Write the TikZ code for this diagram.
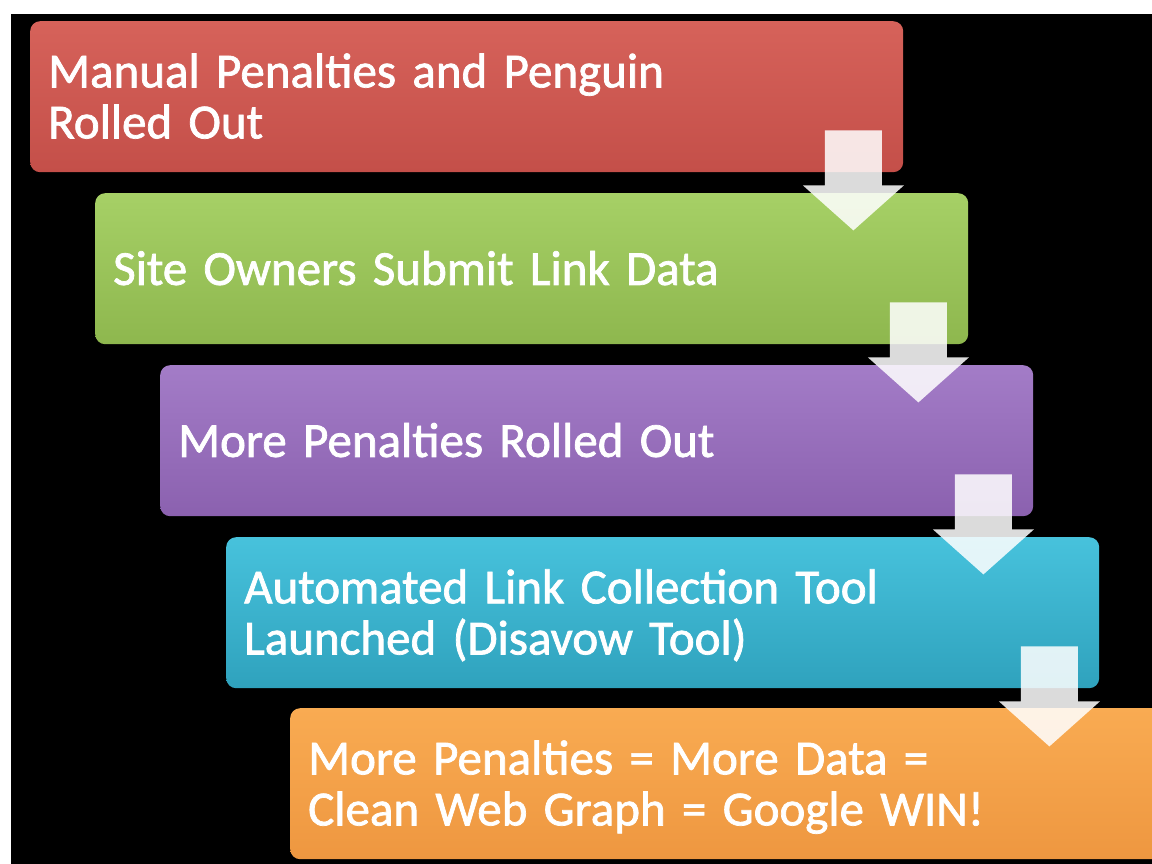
\documentclass[tikz,border=0pt]{standalone}
\usepackage{fontspec}
\setmainfont{Carlito}
\newfontfamily\stagefont{Carlito}[FakeBold=1.5]
\usepackage{graphicx}
\usetikzlibrary{calc}
\definecolor{rTop}{HTML}{D6625A}\definecolor{rBot}{HTML}{C44F49}
\definecolor{gTop}{HTML}{A6D066}\definecolor{gBot}{HTML}{8EB74E}
\definecolor{pTop}{HTML}{A37CC7}\definecolor{pBot}{HTML}{8B61AF}
\definecolor{bTop}{HTML}{47C2DC}\definecolor{bBot}{HTML}{2FA2BD}
\definecolor{oTop}{HTML}{F9AB52}\definecolor{oBot}{HTML}{EE9740}
\newcommand\stxt[1]{\raisebox{-6pt}[\height][\depth]{\begin{tabular}{@{}l@{}}#1\end{tabular}}}
\newcommand\flowarrow[1]{%
  \fill[arrowf] ($(#1.south east)+(-78.5,42)$) -- ++(57,0) -- ++(0,-55) -- ++(22,0)
    -- ++(-50.5,-45) -- ++(-50.5,45) -- ++(22,0) -- cycle;}
\begin{document}
\begin{tikzpicture}[x=1pt,y=1pt,
  stage/.style={anchor=north west, rounded corners=10pt, minimum width=873pt,
    minimum height=151pt, text width=837pt, inner xsep=18pt, inner ysep=0pt,
    align=left, text=white, font=\stagefont\fontsize{49}{51}\selectfont},
  arrowf/.style={fill=white, fill opacity=0.86}]
\useasboundingbox (0,0) rectangle (1152,-864);
\fill[white] (0,0) rectangle (1152,-864);
\fill[black] (11,-14) rectangle (1152,-864);
\node[stage, top color=rTop, bottom color=rBot] (s1) at (30,-21)
  {\stxt{Manual Penalties and Penguin\\Rolled Out}};
\node[stage, top color=gTop, bottom color=gBot] (s2) at (95,-193)
  {\stxt{Site Owners Submit Link Data}};
\node[stage, top color=pTop, bottom color=pBot] (s3) at (160,-365)
  {\stxt{More Penalties Rolled Out}};
\node[stage, top color=bTop, bottom color=bBot] (s4) at (226,-537)
  {\stxt{Automated Link Collection Tool\\Launched (Disavow Tool)}};
\node[stage, top color=oTop, bottom color=oBot] (s5) at (290,-708)
  {\stxt{More Penalties = More Data =\\Clean Web Graph = Google WIN!}};
\flowarrow{s1}
\flowarrow{s2}
\flowarrow{s3}
\flowarrow{s4}
\end{tikzpicture}
\end{document}
